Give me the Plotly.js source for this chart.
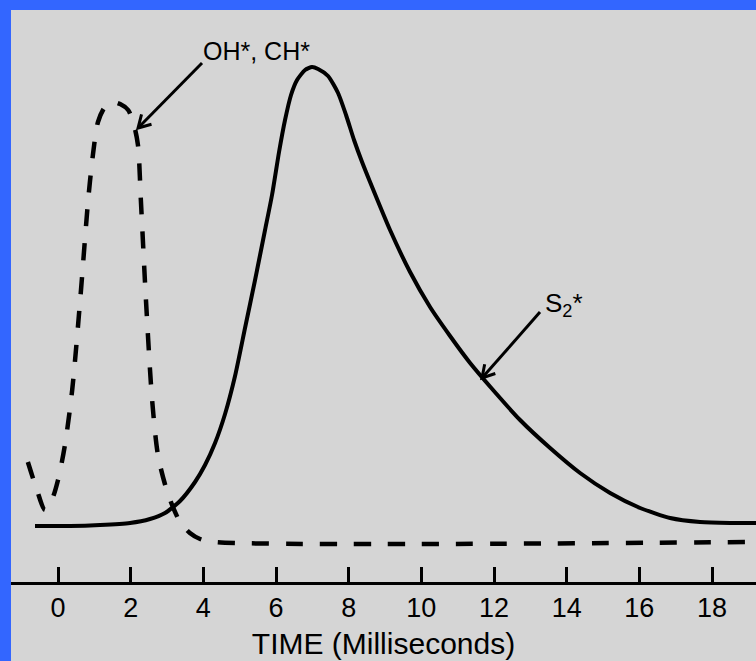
<!DOCTYPE html>
<html>
<head>
<meta charset="utf-8">
<script src="https://cdn.plot.ly/plotly-3.0.1.min.js"></script>
<style>
  html, body { margin: 0; padding: 0; background: #3366ff; width: 756px; height: 661px; overflow: hidden; }
  #chart { position: absolute; left: 11px; top: 10px; width: 745px; height: 651px; }
</style>
</head>
<body>
<div id="chart"></div>
<script>
// Time in milliseconds, emission intensity in arbitrary units
const s2Time = [-0.633, 0.330, 1.156, 1.982, 2.532, 2.945, 3.358, 3.771, 4.046, 4.322, 4.597, 4.872, 5.147, 5.423, 5.698, 5.890, 6.083, 6.248, 6.413, 6.579, 6.799, 6.991, 7.157, 7.432, 7.707, 7.927, 8.147, 8.368, 8.588, 9.138, 9.689, 10.239, 10.790, 11.341, 11.973, 12.717, 13.543, 14.368, 15.194, 16.020, 16.846, 17.671, 18.497, 19.212];
const s2Intensity = [11.2, 11.2, 11.4, 11.8, 12.6, 13.8, 16.2, 20.0, 23.4, 27.8, 33.6, 41.2, 50.8, 60.4, 70.4, 77.4, 86.0, 92.4, 97.4, 100.4, 102.4, 103.0, 102.6, 101.2, 97.8, 93.4, 88.4, 84.0, 80.0, 70.4, 62.0, 55.0, 49.2, 43.8, 38.4, 32.4, 26.8, 21.8, 17.8, 14.8, 12.8, 12.0, 11.8, 11.8];

const ohTime = [-0.83, -0.58, -0.36, -0.17, 0.0, 0.19, 0.39, 0.61, 0.83, 0.96, 1.10, 1.29, 1.49, 1.71, 1.93, 2.09, 2.20, 2.28, 2.42, 2.59, 2.75, 2.95, 3.14, 3.36, 3.63, 3.91, 4.32, 19.21];
const ohIntensity = [24.0, 18.4, 14.4, 16.4, 20.4, 27.4, 38.4, 56.4, 76.4, 85.4, 92.0, 95.0, 96.0, 95.6, 94.4, 91.4, 87.4, 76.4, 56.4, 36.4, 25.4, 19.4, 15.4, 12.0, 9.8, 8.6, 8.0, 8.0];

const tickValues = [0, 2, 4, 6, 8, 10, 12, 14, 16, 18];
const tickLabels = ["0", "2", "4", "6", "8", "10", "12", "14", "16", "18"];

const FONT = "Liberation Sans, Arial, Helvetica, sans-serif";

const traces = [
  {
    x: ohTime, y: ohIntensity, type: "scatter", mode: "lines", name: "OH*, CH*",
    line: { color: "#000", width: 4.5, dash: "17px,17px", shape: "spline", smoothing: 0.8 },
    hoverinfo: "skip"
  },
  {
    x: s2Time, y: s2Intensity, type: "scatter", mode: "lines", name: "S2*",
    line: { color: "#000", width: 4, shape: "spline", smoothing: 0.6 },
    hoverinfo: "skip"
  }
];

const arrowStyle = { color: "#000", width: 3 };

const layout = {
  width: 745, height: 651,
  margin: { l: 0, r: 0, t: 0, b: 79, pad: 0 },
  paper_bgcolor: "#d5d5d5",
  plot_bgcolor: "rgba(0,0,0,0)",
  showlegend: false,
  font: { family: FONT, color: "#000" },
  xaxis: {
    range: [-1.294, 19.21],
    tickmode: "array", tickvals: tickValues, ticktext: tickLabels,
    ticks: "inside", ticklen: 15, tickwidth: 3, tickcolor: "#000",
    showline: true, linecolor: "#000", linewidth: 3,
    showgrid: false, zeroline: false,
    tickfont: { family: FONT, size: 27, color: "#000" },
    title: { text: "TIME (Milliseconds)", font: { family: FONT, size: 30, color: "#000" }, standoff: 11 },
    fixedrange: true
  },
  yaxis: {
    range: [0, 114.4],
    visible: false, showgrid: false, zeroline: false, fixedrange: true
  },
  shapes: [
    // arrow to OH*, CH* curve
    { type: "line", xref: "paper", yref: "paper", x0: 0.2564, y0: 0.9073, x1: 0.1705, y1: 0.7937, line: arrowStyle },
    { type: "path", xref: "paper", yref: "paper", path: "M 0.1886 0.8002 L 0.1705 0.7937 L 0.1752 0.8175", line: arrowStyle },
    // arrow to S2* curve
    { type: "line", xref: "paper", yref: "paper", x0: 0.7101, y0: 0.4720, x1: 0.6322, y1: 0.3566, line: arrowStyle },
    { type: "path", xref: "paper", yref: "paper", path: "M 0.6501 0.3645 L 0.6322 0.3566 L 0.6358 0.3806", line: arrowStyle }
  ],
  annotations: [
    {
      x: 3.94, y: 106.2, xref: "x", yref: "y", xanchor: "left", yanchor: "middle",
      text: "OH*, CH*", showarrow: false,
      font: { family: FONT, size: 25, color: "#000" }
    },
    {
      x: 13.35, y: 55.6, xref: "x", yref: "y", xanchor: "left", yanchor: "middle",
      text: "S<sub>2</sub>*", showarrow: false,
      font: { family: FONT, size: 26, color: "#000" }
    }
  ]
};

Plotly.newPlot("chart", traces, layout, { staticPlot: true, displayModeBar: false });
</script>
</body>
</html>
